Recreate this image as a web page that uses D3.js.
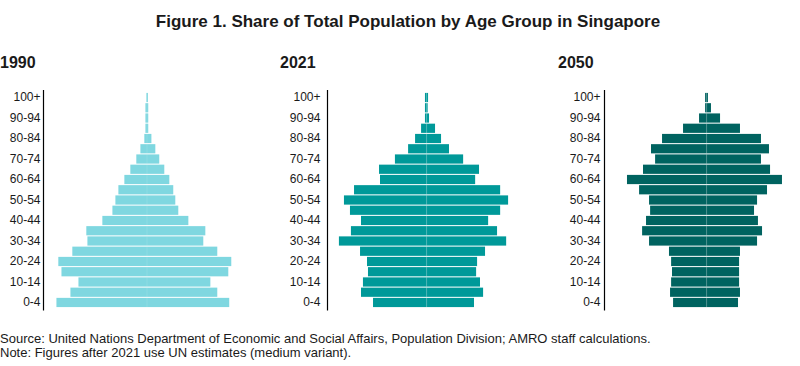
<!DOCTYPE html>
<html>
<head>
<meta charset="utf-8">
<script src="https://cdn.jsdelivr.net/npm/d3@7/dist/d3.min.js"></script>
<style>
  html, body { margin: 0; padding: 0; background: #fff; }
  svg { display: block; font-family: "Liberation Sans", Arial, sans-serif; }
</style>
</head>
<body>
<svg id="chart" width="800" height="366"></svg>
<script>
// ---- Data ----
const ageGroups = ["0-4","5-9","10-14","15-19","20-24","25-29","30-34","35-39","40-44","45-49",
  "50-54","55-59","60-64","65-69","70-74","75-79","80-84","85-89","90-94","95-99","100+"];
const tickLabels = ["0-4","10-14","20-24","30-34","40-44","50-54","60-64","70-74","80-84","90-94","100+"];
const years = ["1990", "2021", "2050"];

// Share of total population (%), male (left) and female (right), from 0-4 upward
const male1990   = [5.76,4.87,4.36,5.44,5.64,4.75,3.79,3.86,2.84,2.20,2.01,1.82,1.44,1.06,0.68,0.42,0.17,0.10,0.10,0.10,0.04];
const female1990 = [5.23,4.47,4.03,5.17,5.36,4.47,3.58,3.71,2.63,1.99,1.80,1.67,1.42,1.10,0.78,0.53,0.28,0.08,0.08,0.08,0.06];
const male2021   = [2.77,3.39,3.29,3.03,3.08,3.44,4.53,3.91,3.39,3.96,4.27,3.75,2.41,2.46,1.64,0.96,0.60,0.29,0.09,0.09,0.09];
const female2021 = [2.44,2.91,2.75,2.55,2.60,3.01,4.10,3.63,3.17,3.79,4.20,3.79,2.50,2.70,1.88,1.15,0.74,0.43,0.12,0.05,0.07];
const male2050   = [1.89,2.06,2.00,1.95,2.00,2.12,3.24,3.63,3.41,3.18,3.24,3.80,4.48,3.58,2.90,3.13,2.51,1.33,0.43,0.09,0.09];
const female2050 = [1.76,1.87,1.82,1.82,1.82,1.87,2.83,3.11,2.88,2.66,2.83,3.39,4.23,3.56,3.05,3.50,3.05,1.87,0.75,0.24,0.07];

const maleSeries = [male1990, male2021, male2050];
const femaleSeries = [female1990, female2021, female2050];

// ---- Layout / style ----
const colors = ["#7fd7e0", "#009999", "#006360"];
const panelLayout = [
  { yearX: 0,   axisX: 43.5,  labelX: 40.5,  centerX: 147,   domainMax: 6.36 },
  { yearX: 280, axisX: 327.5, labelX: 320.5, centerX: 426.7, domainMax: 5.16 },
  { yearX: 558, axisX: 604.5, labelX: 600.5, centerX: 706.7, domainMax: 5.62 }
];

const svg = d3.select("#chart");

svg.append("text")
  .attr("x", 408).attr("y", 27)
  .attr("text-anchor", "middle")
  .attr("font-size", 17).attr("font-weight", "bold")
  .attr("fill", "#1a1a1a")
  .text("Figure 1. Share of Total Population by Age Group in Singapore");

const y = d3.scaleBand()
  .domain(ageGroups.slice().reverse())
  .range([92.4, 307.6])
  .paddingInner(0.1)
  .paddingOuter(0.05);

years.forEach((yr, i) => {
  const L = panelLayout[i];
  const x = d3.scaleLinear().domain([-L.domainMax, L.domainMax]).range([L.centerX - 100, L.centerX + 100]);
  const g = svg.append("g");

  g.append("text")
    .attr("x", L.yearX).attr("y", 68)
    .attr("font-size", 16).attr("font-weight", "bold")
    .attr("fill", "#1a1a1a")
    .text(yr);

  const rows = ageGroups.map((a, j) => ({ age: a, m: maleSeries[i][j], f: femaleSeries[i][j] }));

  g.selectAll("rect.m").data(rows).join("rect")
    .attr("class", "m")
    .attr("x", d => x(-d.m))
    .attr("width", d => x(0) - x(-d.m))
    .attr("y", d => y(d.age))
    .attr("height", y.bandwidth())
    .attr("fill", colors[i]);

  g.selectAll("rect.f").data(rows).join("rect")
    .attr("class", "f")
    .attr("x", x(0))
    .attr("width", d => x(d.f) - x(0))
    .attr("y", d => y(d.age))
    .attr("height", y.bandwidth())
    .attr("fill", colors[i]);

  // faint divider between male and female bars
  g.selectAll("rect.c").data(rows).join("rect")
    .attr("class", "c")
    .attr("x", x(0) - 0.5)
    .attr("width", 1)
    .attr("y", d => y(d.age))
    .attr("height", y.bandwidth())
    .attr("fill", "#ffffff")
    .attr("opacity", 0.12);

  // vertical axis line
  g.append("line")
    .attr("x1", L.axisX).attr("x2", L.axisX)
    .attr("y1", 90).attr("y2", 310.5)
    .attr("stroke", "#000").attr("stroke-width", 1.2);

  const axis = d3.axisLeft(y).tickValues(tickLabels).tickSize(0).tickPadding(0);
  const ag = g.append("g").attr("transform", `translate(${L.labelX},0)`).call(axis);
  ag.select(".domain").remove();
  ag.selectAll("text")
    .attr("font-size", 12)
    .attr("font-family", "Liberation Sans, Arial, sans-serif")
    .attr("fill", "#1a1a1a");
});

svg.append("text")
  .attr("x", 0).attr("y", 343)
  .attr("font-size", 13).attr("fill", "#1a1a1a")
  .text("Source: United Nations Department of Economic and Social Affairs, Population Division; AMRO staff calculations.");
svg.append("text")
  .attr("x", 0).attr("y", 357)
  .attr("font-size", 13).attr("fill", "#1a1a1a")
  .text("Note: Figures after 2021 use UN estimates (medium variant).");
</script>
</body>
</html>
